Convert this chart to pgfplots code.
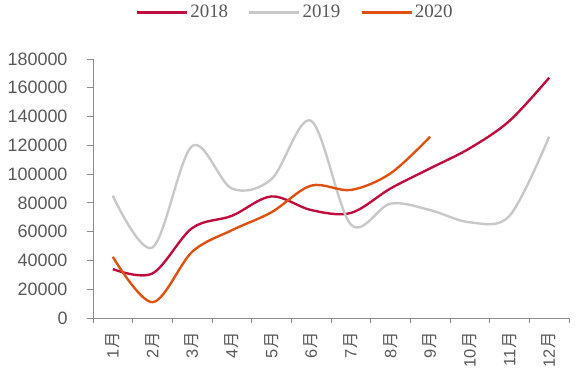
\documentclass[border=0pt]{standalone}
\usepackage{fontspec}
\setmainfont{Liberation Sans}
\newfontfamily\legfont{Liberation Serif}
\newfontfamily\cjk{Noto Sans CJK SC}
\usepackage{pgfplots}
\pgfplotsset{compat=1.18}
\definecolor{c18}{HTML}{C00D3F}
\definecolor{c19}{HTML}{C8C8C8}
\definecolor{c20}{HTML}{E0500F}
\definecolor{txt}{HTML}{595959}
\definecolor{axc}{HTML}{8C8C8C}
\begin{document}
\begin{tikzpicture}
\begin{axis}[
  scale only axis, width=476bp, height=259bp,
  xmin=0.5, xmax=12.5, ymin=0, ymax=180000,
  axis x line*=bottom, axis y line*=left,
  axis line style={draw=axc, line width=0.8pt},
  clip=false,
  xtick={1,...,12},
  xticklabels={{1\cjk 月},{2\cjk 月},{3\cjk 月},{4\cjk 月},{5\cjk 月},{6\cjk 月},{7\cjk 月},{8\cjk 月},{9\cjk 月},{10\cjk 月},{11\cjk 月},{12\cjk 月}},
  major x tick style={draw=none},
  minor xtick={0.5,1.5,...,12.5},
  minor x tick style={draw=axc, line width=0.8pt},
  minor tick length=5bp,
  ytick={0,20000,...,180000},
  major y tick style={draw=axc, line width=0.8pt},
  major tick length=6bp,
  tick align=outside,
  scaled y ticks=false,
  /pgf/number format/.cd, fixed, set thousands separator={}, assume math mode=true,
  /pgfplots/.cd,
  yticklabel style={font=\fontsize{18}{18}\selectfont, text=txt},
  yticklabel shift=16bp,
  xticklabel style={font=\fontsize{16.5}{16.5}\selectfont, text=txt, rotate=90, anchor=east},
  xticklabel shift=5bp,
  legend style={draw=none, at={(0.425,1.18)}, anchor=center, legend columns=3,
    font=\legfont\fontsize{19}{19}\selectfont, text=txt,
    /tikz/every even column/.append style={column sep=18bp}},
  legend image code/.code={\draw[#1] (0bp,0bp) -- (50bp,0bp);},
  every axis plot/.append style={line width=2.4pt, smooth, tension=0.55, no markers},
]
\addplot[c18] coordinates {(1,34000)(2,31000)(3,62500)(4,71000)(5,84500)(6,75000)(7,73000)(8,90000)(9,104000)(10,118000)(11,137000)(12,167000)};
\addlegendentry{2018}
\addplot[c19] coordinates {(1,85000)(2,49000)(3,119500)(4,90000)(5,96500)(6,137000)(7,65000)(8,79500)(9,75000)(10,66500)(11,71000)(12,126000)};
\addlegendentry{2019}
\addplot[c20] coordinates {(1,42500)(2,11000)(3,46000)(4,61000)(5,73500)(6,92000)(7,89000)(8,100500)(9,126000)};
\addlegendentry{2020}
\path (rel axis cs:0,0) ++(-93bp,-54bp) rectangle ++(578bp,372bp);
\end{axis}
\end{tikzpicture}
\end{document}
